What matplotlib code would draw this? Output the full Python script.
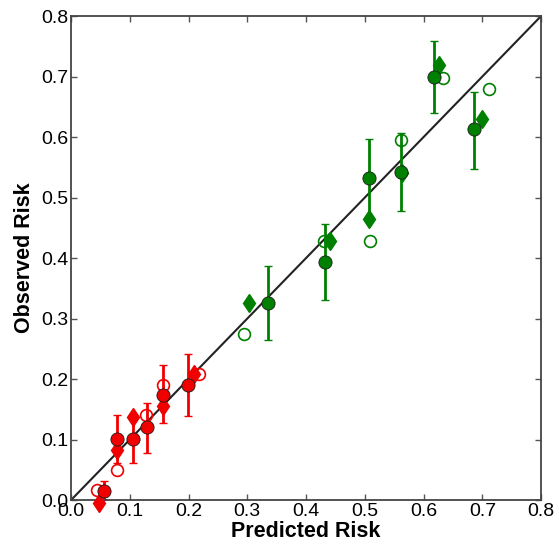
import numpy as np
import matplotlib.pyplot as plt

plt.rcParams['font.family'] = ['Liberation Sans', 'DejaVu Sans']

# low-risk group (red)
red_x = [0.056, 0.079, 0.106, 0.130, 0.157, 0.199]
red_y = [0.015, 0.101, 0.101, 0.121, 0.174, 0.191]
red_lo = [0.000, 0.061, 0.062, 0.078, 0.127, 0.139]
red_hi = [0.032, 0.140, 0.142, 0.160, 0.223, 0.242]
red_dx = [0.048, 0.079, 0.106, 0.157, 0.210]
red_dy = [-0.004, 0.083, 0.138, 0.156, 0.209]
red_ox = [0.044, 0.079, 0.127, 0.157, 0.217]
red_oy = [0.017, 0.050, 0.140, 0.191, 0.208]

# high-risk group (green)
grn_x = [0.336, 0.433, 0.507, 0.562, 0.617, 0.685]
grn_y = [0.325, 0.394, 0.532, 0.542, 0.700, 0.613]
grn_lo = [0.264, 0.331, 0.463, 0.477, 0.640, 0.548]
grn_hi = [0.387, 0.457, 0.596, 0.606, 0.759, 0.675]
grn_dx = [0.303, 0.441, 0.507, 0.563, 0.626, 0.700]
grn_dy = [0.325, 0.429, 0.464, 0.540, 0.719, 0.629]
grn_ox = [0.295, 0.431, 0.508, 0.562, 0.633, 0.711]
grn_oy = [0.274, 0.429, 0.429, 0.595, 0.698, 0.680]


def draw_group(ax, x, y, lo, hi, dx, dy, ox, oy, color):
    x, y = np.array(x), np.array(y)
    err = [y - np.array(lo), np.array(hi) - y]
    ax.errorbar(x, y, yerr=err, fmt='none', ecolor=color, elinewidth=2,
                capsize=3, capthick=1, zorder=2)
    ax.plot(ox, oy, 'o', ms=8.5, mfc='none', mec=color, mew=1.2, zorder=3)
    ax.plot(dx, dy, 'd', ms=9.5, color=color, mec=color, zorder=4, clip_on=False)
    ax.plot(x, y, 'o', ms=9.5, color=color, mec='#1a1a1a', mew=0.6, zorder=5)


fig = plt.figure(figsize=(5.59, 5.52), dpi=100)
ax = fig.add_axes([0.127, 0.094, 0.841, 0.877])

ax.plot([0, 0.8], [0, 0.8], color='#222222', lw=1.5, zorder=1)
draw_group(ax, red_x, red_y, red_lo, red_hi, red_dx, red_dy, red_ox, red_oy, '#f00000')
draw_group(ax, grn_x, grn_y, grn_lo, grn_hi, grn_dx, grn_dy, grn_ox, grn_oy, '#008000')

ax.set_xlim(0, 0.8)
ax.set_ylim(0, 0.8)
ticks = np.arange(0, 0.81, 0.1)
ax.set_xticks(ticks)
ax.set_yticks(ticks)
ax.set_xticklabels(['%.1f' % t for t in ticks])
ax.set_yticklabels(['%.1f' % t for t in ticks])
ax.tick_params(direction='in', top=True, right=True, length=4, width=1,
               color='#555555', labelsize=14, pad=2)
for s in ax.spines.values():
    s.set_color('#444444')
    s.set_linewidth(1.3)

ax.set_xlabel('Predicted Risk', fontsize=15.5, fontweight='bold', labelpad=1)
ax.set_ylabel('Observed Risk', fontsize=15.5, fontweight='bold', labelpad=4)

plt.savefig('out.png')
